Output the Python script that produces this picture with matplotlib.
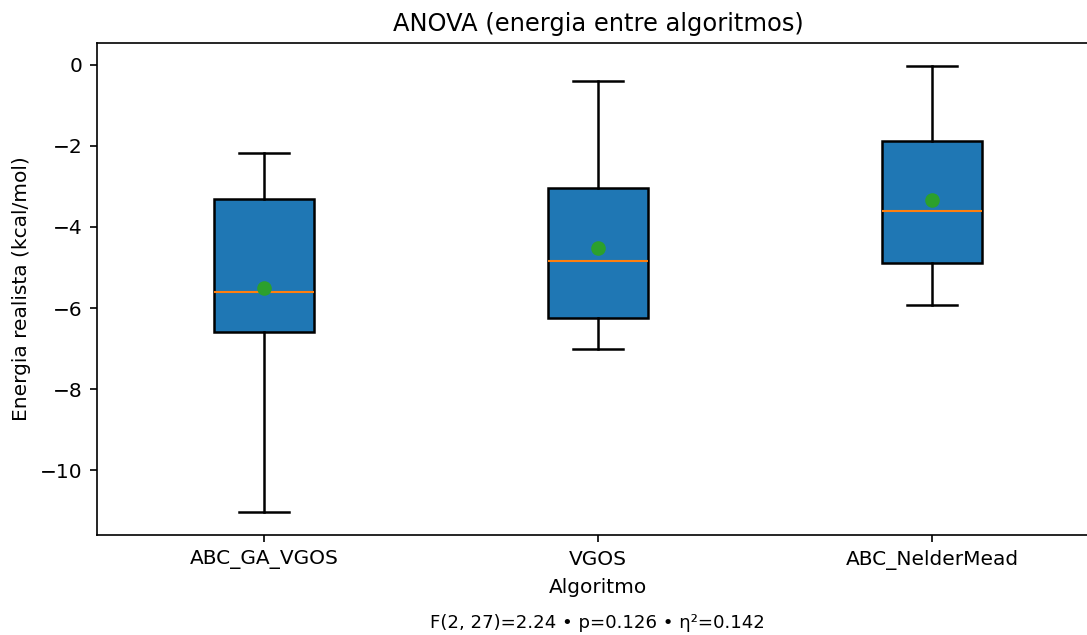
import matplotlib
matplotlib.use("Agg")
import matplotlib.pyplot as plt

algorithms = ["ABC_GA_VGOS", "VGOS", "ABC_NelderMead"]
whislo = [-11.03, -7.0, -5.93]
q1 = [-6.6, -6.25, -4.88]
med = [-5.6, -4.85, -3.6]
q3 = [-3.3, -3.03, -1.88]
whishi = [-2.17, -0.4, -0.02]
means = [-5.5, -4.52, -3.33]

stats = []
for i, name in enumerate(algorithms):
    stats.append(dict(label=name, whislo=whislo[i], q1=q1[i], med=med[i],
                      q3=q3[i], whishi=whishi[i], mean=means[i], fliers=[]))

fig = plt.figure(figsize=(1087/150, 635/150), dpi=150)
ax = fig.add_axes([97/1087, 1 - 535/635, 1002/1087, (535-43)/635])
bp = ax.bxp(stats, positions=[1, 2, 3], widths=0.3, patch_artist=True,
            showmeans=True, showfliers=False,
            boxprops=dict(facecolor="#1f77b4", edgecolor="black", linewidth=1.2),
            whiskerprops=dict(color="black", linewidth=1.2),
            capprops=dict(color="black", linewidth=1.2),
            medianprops=dict(color="#ff7f0e", linewidth=1.0),
            meanprops=dict(marker="o", markerfacecolor="#2ca02c",
                           markeredgecolor="#2ca02c", markersize=6))
ax.set_xlim(0.5, 3.5)
ax.set_ylim(-11.6, 0.54)
ax.set_title("ANOVA (energia entre algoritmos)", fontsize=11.6, pad=5.8)
ax.set_xlabel("Algoritmo", fontsize=9.67)
ax.set_ylabel("Energia realista (kcal/mol)", fontsize=9.67)
ax.tick_params(labelsize=9.67)
fig.text(597/1087, 1 - 623/635, "F(2, 27)=2.24 • p=0.126 • η²=0.142",
         ha="center", va="center", fontsize=8.7)
fig.savefig("out.png", dpi=150)
